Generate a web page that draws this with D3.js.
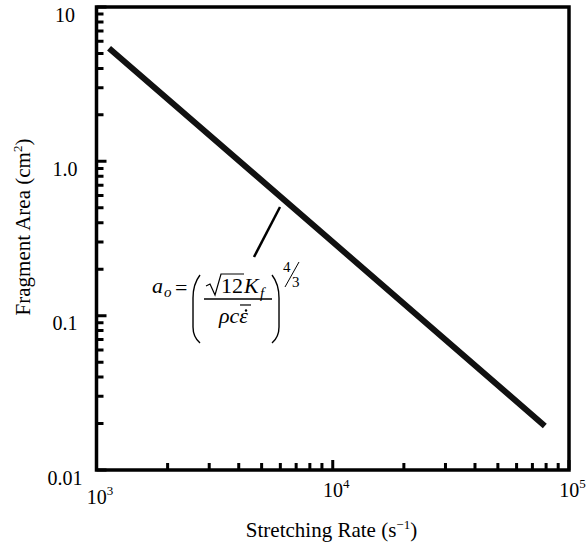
<!DOCTYPE html>
<html>
<head>
<meta charset="utf-8">
<script src="https://cdn.jsdelivr.net/npm/d3@7"></script>
<style>
  body { margin: 0; background: #fff; }
  text { font-family: "Liberation Serif", "Times New Roman", serif; fill: #000; }
</style>
</head>
<body>
<script>
var width = 588;
var height = 548;

// data
var rates = [1130, 10000, 79000];          // stretching rate, 1/s
var areas = [5.4, 0.30, 0.0193];           // fragment area, cm^2
var xDecades = [1e3, 1e4, 1e5];
var xExp = ["3", "4", "5"];
var yDecades = [10, 1, 0.1, 0.01];
var yLabels = ["10", "1.0", "0.1", "0.01"];
// leader line of the formula, in data units
var leadRate = [5980, 4642];
var leadArea = [0.506, 0.240];

var x = d3.scaleLog().domain([1e3, 1e5]).range([96.5, 569]);
var y = d3.scaleLog().domain([0.01, 10]).range([470, 7]);

var svg = d3.select("body").append("svg")
    .attr("width", width)
    .attr("height", height);

// minor + major tick values
function logTicks(lo, hi) {
    var t = [];
    for (var d = lo; d < hi; d *= 10) {
        for (var k = 1; k < 10; k++) t.push(d * k);
    }
    t.push(hi);
    return t;
}
function isMajor(v) {
    var l = Math.log(v) / Math.LN10;
    return Math.abs(l - Math.round(l)) < 1e-6;
}

// frame
svg.append("rect")
    .attr("x", x(1e3))
    .attr("y", y(10))
    .attr("width", x(1e5) - x(1e3))
    .attr("height", y(0.01) - y(10))
    .attr("fill", "none")
    .attr("stroke", "#000")
    .attr("stroke-width", 3.5);

// inward ticks, one path per axis
var xd = logTicks(1e3, 1e5).map(function (d) {
    return "M" + x(d) + "," + y(0.01) + "V" + (y(0.01) - (isMajor(d) ? 10 : 7));
}).join("");
var yd = logTicks(0.01, 10).map(function (d) {
    return "M" + x(1e3) + "," + y(d) + "H" + (x(1e3) + (isMajor(d) ? 10 : 7));
}).join("");
svg.append("path").attr("d", xd).attr("fill", "none")
    .style("stroke", "#000").style("stroke-width", "3px");
svg.append("path").attr("d", yd).attr("fill", "none")
    .style("stroke", "#000").style("stroke-width", "3px");

// tick labels
svg.selectAll(".ylab").data(yDecades).enter()
    .append("text").classed("ylab", true)
    .attr("x", 65)
    .attr("y", function (d) { return y(d) + 14.5; })
    .attr("text-anchor", "middle")
    .style("font-size", "20px")
    .text(function (d, i) { return yLabels[i]; });

var xl = svg.selectAll(".xlab").data(xDecades).enter()
    .append("text").classed("xlab", true)
    .attr("x", function (d) { return x(d) + 3.5; })
    .attr("y", function (d, i) { return i === 0 ? 504 : 497; })
    .attr("text-anchor", "middle")
    .style("font-size", "20px");
xl.append("tspan").text("10");
xl.append("tspan").attr("dy", -9).style("font-size", "13px")
    .text(function (d, i) { return xExp[i]; });

// axis titles
var xt = svg.append("text")
    .attr("x", 331.5)
    .attr("y", 537)
    .attr("text-anchor", "middle")
    .style("font-size", "21px");
xt.append("tspan").text("Stretching Rate (s");
xt.append("tspan").attr("dy", -8).style("font-size", "13px").text("\u22121");
xt.append("tspan").attr("dy", 8).text(")");

var yt = svg.append("text")
    .attr("transform", "translate(30,227) rotate(-90)")
    .attr("text-anchor", "middle")
    .style("font-size", "21px");
yt.append("tspan").text("Fragment Area (cm");
yt.append("tspan").attr("dy", -8).style("font-size", "13px").text("2");
yt.append("tspan").attr("dy", 8).text(")");

// the data line
var pts = rates.map(function (r, i) { return [r, areas[i]]; });
svg.append("path")
    .datum(pts)
    .attr("d", d3.line().x(function (d) { return x(d[0]); }).y(function (d) { return y(d[1]); }))
    .attr("fill", "none")
    .attr("stroke", "#111")
    .attr("stroke-width", 6)
    .attr("stroke-linecap", "butt");

// leader line
svg.append("line")
    .attr("x1", x(leadRate[0])).attr("y1", y(leadArea[0]))
    .attr("x2", x(leadRate[1])).attr("y2", y(leadArea[1]))
    .attr("stroke", "#000")
    .attr("stroke-width", 2.5);

// formula, placed relative to the lower end of the leader
var fx = x(leadRate[1]), fy = y(leadArea[1]);
var f = svg.append("g").attr("transform", "translate(" + fx + "," + fy + ")");
function ft(tx, ty, s, size, italic) {
    return f.append("text").attr("x", tx).attr("y", ty)
        .style("font-size", size + "px")
        .style("font-style", italic ? "italic" : "normal")
        .text(s);
}
function fp(d, w) {
    return f.append("path").attr("d", d)
        .attr("stroke", "#000").attr("stroke-width", w || 1.2).attr("fill", "none");
}
ft(-102, 36, "a", 22, true);
ft(-90, 40, "o", 15, true);
ft(-79, 38, "=", 22, false);
// big parens
fp("M-54,18 Q-61,27 -61,41 L-61,70 Q-61,80 -54,86", 1.4);
fp("M18,18 Q25,27 25,41 L25,70 Q25,80 18,86", 1.4);
// radical
fp("M-48,29 L-44,27 L-39,38 L-33,17 L-10,17");
ft(-33, 36, "12", 22, false);
ft(-10, 36, "K", 22, true);
ft(6, 41, "f", 15, true);
// fraction bar
f.append("line").attr("x1", -50).attr("x2", 18).attr("y1", 42).attr("y2", 42)
    .attr("stroke", "#000").attr("stroke-width", 1.3);
ft(-35, 66, "\u03c1c\u03b5", 22, true);
f.append("line").attr("x1", -14).attr("x2", -3).attr("y1", 48).attr("y2", 48)
    .attr("stroke", "#000").attr("stroke-width", 1.2);
f.append("circle").attr("cx", -8).attr("cy", 53.5).attr("r", 1.2).attr("fill", "#000");
// exponent 4/3
ft(29, 15, "4", 15, false);
f.append("line").attr("x1", 31).attr("y1", 30).attr("x2", 45).attr("y2", 5)
    .attr("stroke", "#000").attr("stroke-width", 1);
ft(38, 30, "3", 15, false);
</script>
</body>
</html>
